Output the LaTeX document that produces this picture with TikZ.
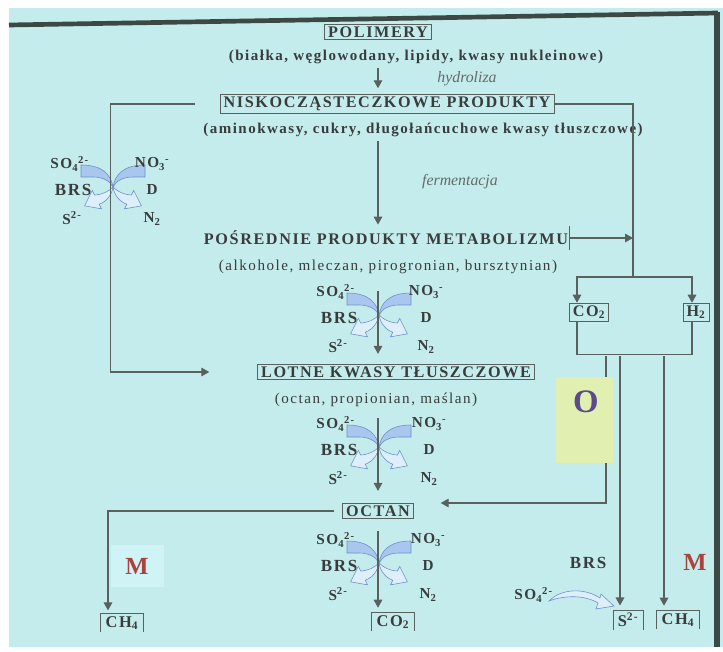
\documentclass[tikz,border=0pt]{standalone}
\usepackage{fontspec}
\setmainfont{Liberation Serif}
\newfontfamily\widefont[LetterSpace=10]{Liberation Serif}
\usetikzlibrary{arrows.meta, positioning, calc}
\definecolor{slidebg}{HTML}{C4ECEC}
\definecolor{framedark}{HTML}{3C4844}
\definecolor{ink}{HTML}{383C3C}
\definecolor{wiregray}{HTML}{59615F}
\definecolor{procgray}{HTML}{646A6A}
\definecolor{bandfill}{HTML}{A9C6EE}
\definecolor{arrowfill}{HTML}{DDEFFA}
\definecolor{bandline}{HTML}{6F90C6}
\definecolor{ofill}{HTML}{E1F0B0}
\definecolor{opurple}{HTML}{5B4B8A}
\definecolor{mred}{HTML}{A8443C}
\definecolor{mfill}{HTML}{D0F3F6}
\newcommand{\ionlab}[3]{#1\textsubscript{#2}\textsuperscript{#3}}

\tikzset{
  pics/redox/.style={code={
    % bands coming in
    \filldraw[bandstyle] (-32,-22) .. controls (-10,-22) and (-2,-12) .. (0,0)
      .. controls (-3,-6) and (-10,-10) .. (-20,-10) -- (-32,-10) -- cycle;
    \filldraw[bandstyle] (32,-22) .. controls (10,-22) and (2,-12) .. (0,0)
      .. controls (3,-6) and (10,-10) .. (20,-10) -- (32,-10) -- cycle;
    % arrows going out
    \begin{scope}[scale=1.15]
      \filldraw[outstyle] (0,0) .. controls (4,4) and (9,6.5) .. (16,7) -- (18,3)
        -- (24.7,16.4) -- (10,19) -- (12,15) .. controls (6,13) and (1,7) .. (0,0) -- cycle;
    \end{scope}
    \begin{scope}[xscale=-1.15, yscale=1.15]
      \filldraw[outstyle] (0,0) .. controls (4,4) and (9,6.5) .. (16,7) -- (18,3)
        -- (24.7,16.4) -- (10,19) -- (12,15) .. controls (6,13) and (1,7) .. (0,0) -- cycle;
    \end{scope}
    \node[ionlabel, anchor=east] (-so) at (-24,-23) {\ionlab{SO}{4}{2-}};
    \node[ionlabel] (-no) at (#1,-23) {\ionlab{NO}{3}{-}};
    \node[brs] (-brs) at (-40,3) {BRS};
    \node[ionlabel] (-d) at (#1,3) {D};
    \node[ionlabel] (-s) at (-41,31) {S\textsuperscript{2-}};
    \node[ionlabel] (-n) at (#1,32) {N\textsubscript{2}};
  }}
}

\begin{document}
\begin{tikzpicture}[
    x=0.03cm, y=-0.03cm,
    every node/.style={text=ink},
    titlebox/.style={draw=wiregray, line width=0.6pt, inner xsep=3pt, inner ysep=2pt,
                     font=\widefont\bfseries\fontsize{13.8}{15}\selectfont},
    title/.style={inner sep=1pt, font=\widefont\bfseries\fontsize{13.8}{15}\selectfont},
    boldnote/.style={font=\widefont\bfseries\fontsize{12.8}{14}\selectfont},
    note/.style={font=\widefont\fontsize{12.9}{14}\selectfont},
    process/.style={font=\itshape\fontsize{13.5}{15}\selectfont, text=procgray},
    ionlabel/.style={inner sep=0pt, font=\widefont\bfseries\fontsize{13}{14}\selectfont},
    brs/.style={inner sep=0pt, font=\widefont\bfseries\fontsize{14.5}{16}\selectfont},
    product/.style={inner xsep=4pt, inner ysep=2pt, font=\widefont\bfseries\fontsize{14}{16}\selectfont},
    wire/.style={draw=wiregray, line width=0.9pt},
    arr/.style={wire, -{Triangle[length=0.24cm, width=0.26cm]}},
    bandstyle/.style={fill=bandfill, draw=bandline, line width=0.5pt},
    outstyle/.style={fill=arrowfill, draw=bandline, line width=0.5pt},
    obox/.style={fill=ofill, minimum width=1.71cm, minimum height=2.55cm, inner sep=0pt},
    olabel/.style={font=\bfseries\fontsize{28}{30}\selectfont, text=opurple},
    mlabel/.style={font=\bfseries\fontsize{21}{23}\selectfont, text=mred}
]
    % slide
    \useasboundingbox (0,0) rectangle (723,652);
    \fill[white] (0,0) rectangle (723,652);
    \fill[slidebg] (9,8) rectangle (723,647);
    \draw[framedark, line width=4pt] (9,25) -- (718,13);
    \draw[framedark, line width=4.5pt] (717,12) -- (717,647);

    % redox crosses
    \pic (lx) at (113,187) {redox=39};
    \pic (ma) at (379,315) {redox=47};
    \pic (mb) at (379,447) {redox=50};
    \pic (mc) at (379,563) {redox=49};

    % main column
    \node[titlebox] (polim) at (378,32) {POLIMERY};
    \node[boldnote] (bialka) at (416,57) {(białka, węglowodany, lipidy, kwasy nukleinowe)};
    \node[process] (hydro) at (467,79) {hydroliza};
    \node[titlebox] (nisko) at (387,104) {NISKOCZĄSTECZKOWE PRODUKTY};
    \node[boldnote] (amino) at (423,130) {(aminokwasy, cukry, długołańcuchowe kwasy tłuszczowe)};
    \node[process] (ferm) at (460,182) {fermentacja};
    \node[title] (posr) at (386,238) {POŚREDNIE PRODUKTY METABOLIZMU};
    \node[note] (alko) at (388,267) {(alkohole, mleczan, pirogronian, bursztynian)};
    \node[titlebox] (lotne) at (396,372) {LOTNE KWASY TŁUSZCZOWE};
    \node[note] (kwasy) at (376,400) {(octan, propionian, maślan)};
    \node[titlebox] (octan) at (378,511) {OCTAN};
    \node[product] (co2m) at (393,622) {CO\textsubscript{2}};
    \node[product] (ch4l) at (122,623) {CH\textsubscript{4}};

    % right branch
    \node[titlebox] (co2r) at (589,312) {CO\textsubscript{2}};
    \node[titlebox] (h2) at (696,312) {H\textsubscript{2}};
    \node[mlabel, fill=mfill, minimum width=1.59cm, minimum height=1.26cm] (mleft) at (137,566) {M};
    \node[mlabel] (mright) at (695,562) {M};
    \node[brs] (brsr) at (588,563) {BRS};
    \node[ionlabel, anchor=east] (so4r) at (553,595) {\ionlab{SO}{4}{2-}};
    \node[product] (s2r) at (628,620) {S\textsuperscript{2-}};
    \node[product] (ch4r) at (678,620) {CH\textsubscript{4}};
    \foreach \n in {co2m, ch4l, s2r, ch4r}
        \draw[wiregray, line width=0.6pt] (\n.south west) |- (\n.north east) -- (\n.south east);

    \filldraw[outstyle] (549,601) .. controls (562,588) and (585,588) .. (600,598) -- (601,594)
        -- (614,606) -- (596,609) -- (598,603) .. controls (585,595) and (565,595) .. (549,601) -- cycle;

    % down the middle
    \draw[arr, shorten >=0.18cm] (polim |- bialka.south) -- (polim |- nisko.north);
    \draw[arr, shorten >=0.15cm] (polim |- amino.south) -- (polim |- posr.north);
    \draw[arr, shorten <=0.39cm, shorten >=0.3cm] (polim |- alko.south) -- (polim |- lotne.north);
    \draw[arr, shorten <=0.21cm, shorten >=0.36cm] (polim |- kwasy.south) -- (octan.north);
    \draw[arr, shorten <=0.36cm, shorten >=0.15cm] (octan.south) -- (octan.south |- co2m.north);

    % right side
    \coordinate (split) at (633,277);
    \draw[wire] (nisko.east) -| (split);
    \draw[arr] (split) -| ($(co2r.north)+(-12,0)$);
    \draw[arr] (split) -| ($(h2.north)+(-4,0)$);
    \draw[wire, {Bar[width=0.72cm]}-{Triangle[length=0.24cm, width=0.26cm]}] (posr.east) -- (posr.east -| split);
    \draw[wire] ($(co2r.south)+(-12,0)$) -- ++(0,33) -| ($(h2.south)+(-4,0)$);
    \coordinate (tapa) at (606,356);
    \coordinate (tapb) at (620,356);
    \coordinate (tapc) at (664,356);
    \draw[arr, shorten >=0.81cm] (tapa) |- ($(octan.east)+(0,-8)$);
    \draw[arr, shorten >=0.15cm] (tapb) -- (tapb |- s2r.north);
    \draw[arr, shorten >=0.15cm] (tapc) -- (tapc |- ch4r.north);

    % left side
    \draw[arr, shorten <=0.75cm, shorten >=1.44cm] (nisko.west) -- ++(-109,0) |- (lotne.west);
    \draw[arr, shorten <=0.24cm, shorten >=0.1cm] (octan.west) -| ($(ch4l.north)+(-14,0)$);

    \node[obox] (obox) at (584,420) {};
    \node[olabel] (olab) at (586,402) {O};
\end{tikzpicture}
\end{document}
